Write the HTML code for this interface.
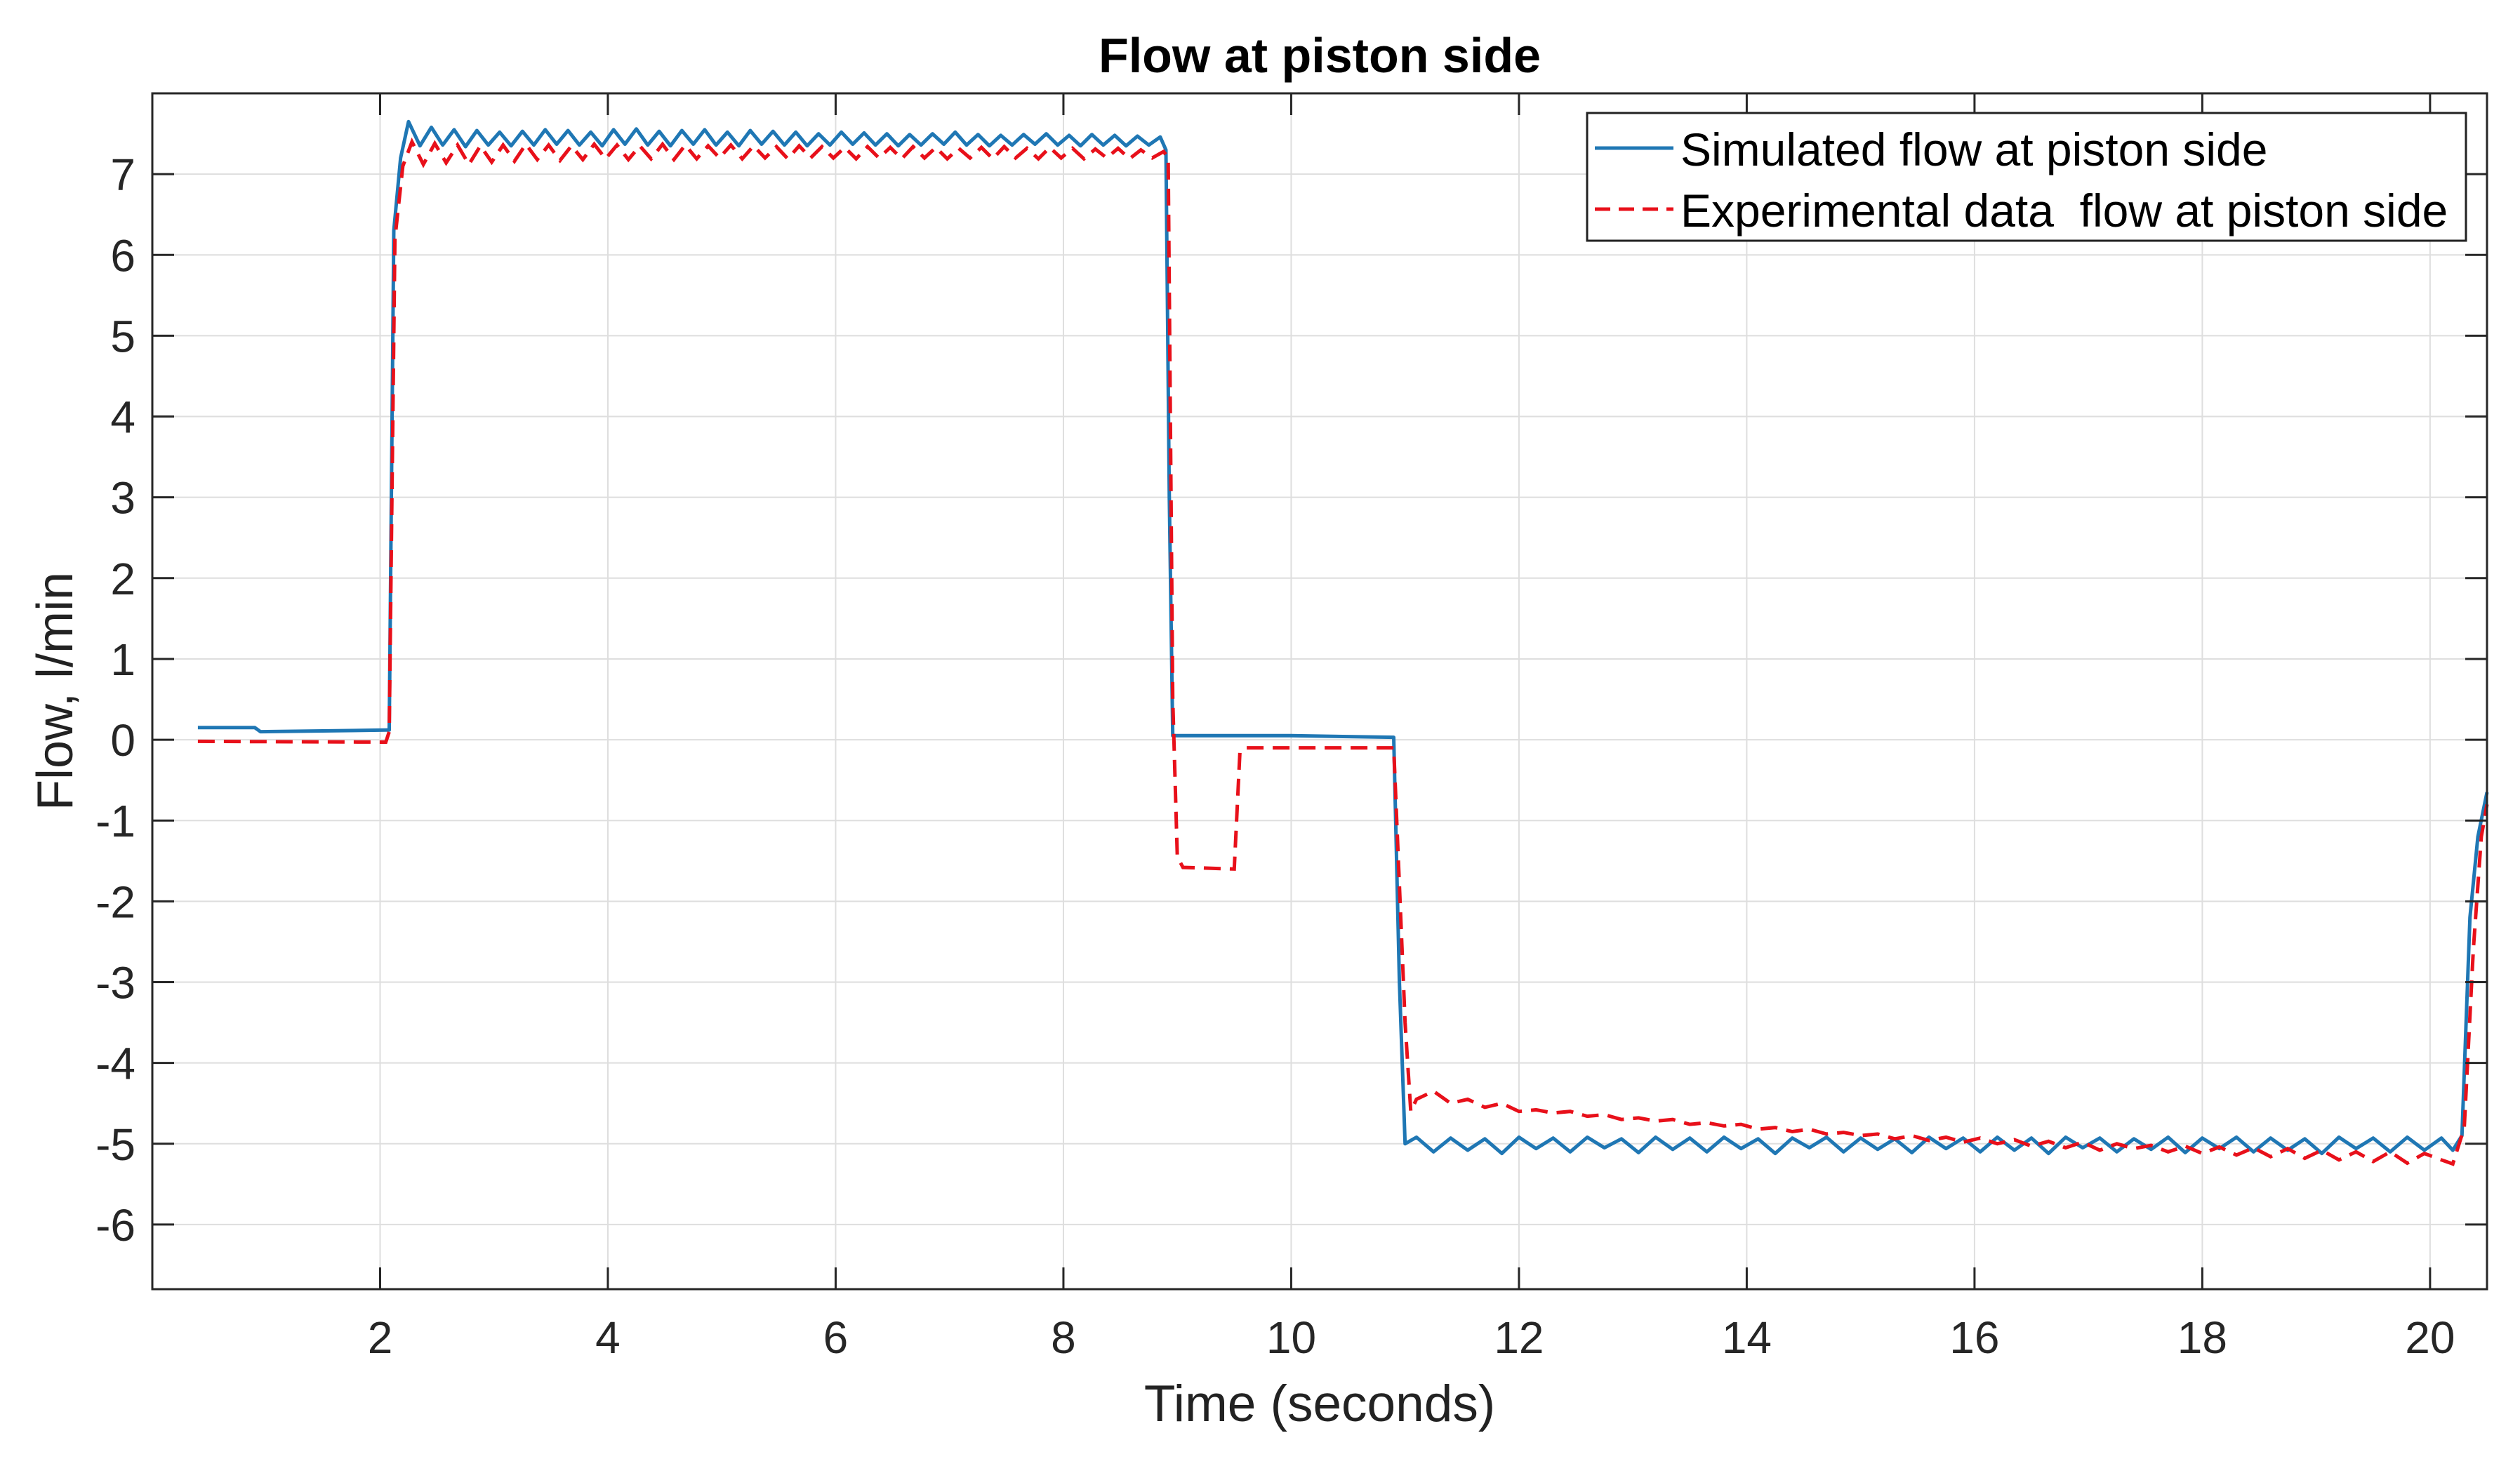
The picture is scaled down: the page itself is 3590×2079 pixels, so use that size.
<!DOCTYPE html>
<html><head><meta charset="utf-8">
<style>
html,body{margin:0;padding:0;background:#fff;}
svg{display:block;font-family:"Liberation Sans",Arial,sans-serif;}
</style></head>
<body>
<svg id="chart" width="3590" height="2079" viewBox="0 0 3590 2079" xmlns="http://www.w3.org/2000/svg">
<rect x="0" y="0" width="3590" height="2079" fill="#fff"/>
<g id="grid"></g>
<g id="series"></g>
<g id="axes"></g>
<text x="1880" y="103" font-size="70" font-weight="bold" text-anchor="middle" fill="#000">Flow at piston side</text>
<text x="1880" y="2025" font-size="73" text-anchor="middle" fill="#222">Time (seconds)</text>
<text transform="translate(103,985) rotate(-90)" font-size="72" text-anchor="middle" fill="#222">Flow, l/min</text>
<g>
<rect x="2261" y="161" width="1252" height="182" fill="#fff" stroke="#222" stroke-width="3"/>
<line x1="2272" y1="211" x2="2384" y2="211" stroke="#1f77b4" stroke-width="5"/>
<text x="2394" y="236" font-size="66" fill="#000">Simulated flow at piston side</text>
<line x1="2272" y1="298" x2="2384" y2="298" stroke="#e8101a" stroke-width="5" stroke-dasharray="22,12"/>
<text x="2394" y="323" font-size="66" fill="#000" xml:space="preserve">Experimental data  flow at piston side</text>
</g>
</svg>
<script>
const xTicks=[2,4,6,8,10,12,14,16,18,20];
const yTicks=[-6,-5,-4,-3,-2,-1,0,1,2,3,4,5,6,7];
const simT=[0.4,0.9,0.95,2.05,2.08,2.12,2.18,
2.25,2.35,2.45,2.55,2.65,2.75,2.85,2.95,3.05,3.15,3.25,3.35,3.45,3.55,3.65,3.75,3.85,3.95,4.05,4.15,4.25,4.35,4.45,4.55,4.65,4.75,4.85,4.95,5.05,5.15,5.25,5.35,5.45,5.55,5.65,5.75,5.85,5.95,6.05,6.15,6.25,6.35,6.45,6.55,6.65,6.75,6.85,6.95,7.05,7.15,7.25,7.35,7.45,7.55,7.65,7.75,7.85,7.95,8.05,8.15,8.25,8.35,8.45,8.55,8.65,8.75,8.85,
8.9,8.93,8.96,10.0,10.9,10.95,11.0,
11.1,11.25,11.4,11.55,11.7,11.85,12.0,12.15,12.3,12.45,12.6,12.75,12.9,13.05,13.2,13.35,13.5,13.65,13.8,13.95,14.1,14.25,14.4,14.55,14.7,14.85,15.0,15.15,15.3,15.45,15.6,15.75,15.9,16.05,16.2,16.35,16.5,16.65,16.8,16.95,17.1,17.25,17.4,17.55,17.7,17.85,18.0,18.15,18.3,18.45,18.6,18.75,18.9,19.05,19.2,19.35,19.5,19.65,19.8,19.95,20.1,
20.2,20.28,20.35,20.42,20.5];
const simV=[0.15,0.15,0.1,0.12,0.12,6.3,7.2,
7.65,7.35,7.58,7.36,7.55,7.34,7.54,7.36,7.52,7.35,7.53,7.36,7.55,7.37,7.54,7.36,7.52,7.35,7.55,7.37,7.56,7.36,7.53,7.35,7.54,7.37,7.55,7.36,7.52,7.35,7.54,7.37,7.53,7.36,7.52,7.35,7.50,7.36,7.52,7.37,7.51,7.36,7.50,7.35,7.49,7.36,7.50,7.37,7.52,7.36,7.49,7.35,7.48,7.36,7.49,7.37,7.50,7.36,7.48,7.35,7.49,7.36,7.48,7.35,7.47,7.36,7.46,
7.3,3.0,0.05,0.05,0.03,-3.0,-5.0,
-4.92,-5.1,-4.93,-5.08,-4.94,-5.12,-4.92,-5.06,-4.93,-5.1,-4.92,-5.05,-4.94,-5.11,-4.92,-5.07,-4.93,-5.1,-4.92,-5.06,-4.94,-5.12,-4.93,-5.05,-4.92,-5.1,-4.93,-5.07,-4.94,-5.11,-4.92,-5.06,-4.93,-5.1,-4.92,-5.08,-4.93,-5.12,-4.92,-5.05,-4.93,-5.1,-4.94,-5.07,-4.92,-5.11,-4.93,-5.06,-4.92,-5.1,-4.93,-5.08,-4.94,-5.12,-4.92,-5.06,-4.93,-5.1,-4.92,-5.08,-4.93,
-5.08,-4.9,-2.2,-1.2,-0.65];
const expT=[0.4,2.05,2.08,2.13,2.2,
2.28,2.38,2.48,2.58,2.68,2.78,2.88,2.98,3.08,3.18,3.28,3.38,3.48,3.58,3.68,3.78,3.88,3.98,4.08,4.18,4.28,4.38,4.48,4.58,4.68,4.78,4.88,4.98,5.08,5.18,5.28,5.38,5.48,5.58,5.68,5.78,5.88,5.98,6.08,6.18,6.28,6.38,6.48,6.58,6.68,6.78,6.88,6.98,7.08,7.18,7.28,7.38,7.48,7.58,7.68,7.78,7.88,7.98,8.08,8.18,8.28,8.38,8.48,8.58,8.68,8.78,8.88,
8.92,8.96,9.0,9.05,9.5,9.55,9.6,10.9,11.0,11.05,
11.1,11.25,11.4,11.55,11.7,11.85,12.0,12.15,12.3,12.45,12.6,12.75,12.9,13.05,13.2,13.35,13.5,13.65,13.8,13.95,14.1,14.25,14.4,14.55,14.7,14.85,15.0,15.15,15.3,15.45,15.6,15.75,15.9,16.05,16.2,16.35,16.5,16.65,16.8,16.95,17.1,17.25,17.4,17.55,17.7,17.85,18.0,18.15,18.3,18.45,18.6,18.75,18.9,19.05,19.2,19.35,19.5,19.65,19.8,19.95,20.1,
20.2,20.3,20.38,20.45,20.5];
const expV=[-0.02,-0.03,0.1,6.2,7.1,
7.4,7.12,7.38,7.14,7.36,7.12,7.35,7.15,7.36,7.16,7.37,7.18,7.36,7.17,7.35,7.18,7.37,7.19,7.36,7.18,7.35,7.19,7.37,7.18,7.36,7.19,7.35,7.2,7.36,7.19,7.35,7.2,7.34,7.19,7.35,7.2,7.34,7.2,7.33,7.19,7.34,7.2,7.33,7.19,7.34,7.2,7.33,7.19,7.32,7.2,7.33,7.19,7.34,7.2,7.32,7.19,7.33,7.2,7.32,7.19,7.31,7.2,7.32,7.19,7.3,7.2,7.28,
7.2,0.5,-1.45,-1.58,-1.6,-0.15,-0.1,-0.1,-3.5,-4.6,
-4.45,-4.35,-4.5,-4.45,-4.55,-4.5,-4.6,-4.58,-4.62,-4.6,-4.66,-4.64,-4.7,-4.68,-4.72,-4.7,-4.76,-4.74,-4.78,-4.76,-4.82,-4.8,-4.85,-4.82,-4.88,-4.86,-4.9,-4.88,-4.94,-4.9,-4.96,-4.92,-4.98,-4.93,-5.0,-4.95,-5.03,-4.97,-5.05,-4.98,-5.08,-5.0,-5.06,-5.02,-5.1,-5.03,-5.12,-5.04,-5.14,-5.05,-5.16,-5.06,-5.18,-5.08,-5.2,-5.1,-5.22,-5.1,-5.24,-5.12,-5.2,
-5.25,-4.8,-2.6,-1.2,-0.8];

const L=217,R=3543,T=133,B=1837,xMin=0,xMax=20.5,yMin=-6.8,yMax=8;
function sx(t){return L+(t-xMin)/(xMax-xMin)*(R-L);}
function sy(v){return T+(yMax-v)/(yMax-yMin)*(B-T);}
const NS='http://www.w3.org/2000/svg';
function mk(tag,attrs,parent){const e=document.createElementNS(NS,tag);for(const k in attrs)e.setAttribute(k,attrs[k]);parent.appendChild(e);return e;}
const grid=document.getElementById('grid'),axes=document.getElementById('axes'),series=document.getElementById('series');
xTicks.forEach(t=>{
  const g=mk('line',{x1:sx(t),x2:sx(t),y1:T,y2:B,stroke:'#dedede','stroke-width':2},grid);
  
  
  const a=mk('line',{x1:sx(t),x2:sx(t),y1:B,y2:B-31,stroke:'#262626','stroke-width':3},axes);
  
  
  const b=mk('line',{x1:sx(t),x2:sx(t),y1:T,y2:T+31,stroke:'#262626','stroke-width':3},axes);
  
  
  const l=mk('text',{x:sx(t),y:1928,'font-size':64,'text-anchor':'middle',fill:'#262626'},axes);
  l.textContent=t;
  
  
});
yTicks.forEach(v=>{
  const g=mk('line',{x1:L,x2:R,y1:sy(v),y2:sy(v),stroke:'#dedede','stroke-width':2},grid);
  
  
  const a=mk('line',{x1:L,x2:L+31,y1:sy(v),y2:sy(v),stroke:'#262626','stroke-width':3},axes);
  
  
  const b=mk('line',{x1:R,x2:R-31,y1:sy(v),y2:sy(v),stroke:'#262626','stroke-width':3},axes);
  
  
  const l=mk('text',{x:193,y:sy(v)+23,'font-size':64,'text-anchor':'end',fill:'#262626'},axes);
  l.textContent=v;
  
  
});
const box=mk('rect',{x:L,y:T,width:R-L,height:B-T,fill:'none',stroke:'#262626','stroke-width':3},axes);


function pts(ts,vs){const n=Math.min(ts.length,vs.length);const o=[];for(let i=0;i<n;i++)o.push(sx(ts[i]).toFixed(1)+','+sy(vs[i]).toFixed(1));return o.join(' ');}
const sim=mk('polyline',{points:pts(simT,simV),fill:'none',stroke:'#1f77b4','stroke-width':5,'stroke-linejoin':'round'},series);


const exp=mk('polyline',{points:pts(expT,expV),fill:'none',stroke:'#e8101a','stroke-width':5,'stroke-dasharray':'24,13'},series);


</script>
</body></html>
